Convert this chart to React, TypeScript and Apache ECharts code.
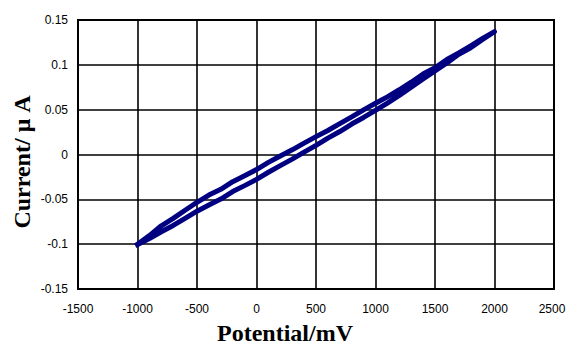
import React, { useEffect, useRef } from "react";
import * as echarts from "echarts";

const potential = [
  -1000, -900, -800, -700, -600, -500, -400, -300, -200, -100, 0, 100, 200, 300, 400, 500,
  600, 700, 800, 900, 1000, 1100, 1200, 1300, 1400, 1500, 1600, 1700, 1800, 1900, 2000,
];
const upperCurrent = [
  -0.1, -0.0905, -0.0795, -0.0712, -0.0622, -0.0533, -0.0452, -0.0388, -0.0303, -0.0237,
  -0.0168, -0.0088, -0.0016, 0.0052, 0.0127, 0.0199, 0.0268, 0.0345, 0.0419, 0.0497, 0.0571,
  0.0643, 0.0722, 0.0806, 0.0897, 0.0968, 0.106, 0.1133, 0.1212, 0.1294, 0.137,
];
const lowerCurrent = [
  -0.1005, -0.0938, -0.0862, -0.0791, -0.0713, -0.0632, -0.0563, -0.0497, -0.0413, -0.0347,
  -0.0277, -0.0198, -0.0124, -0.0052, 0.0027, 0.0102, 0.0183, 0.0256, 0.034, 0.0413, 0.0492,
  0.0573, 0.0659, 0.0751, 0.0843, 0.0931, 0.1021, 0.1117, 0.119, 0.1283, 0.1368,
];
const xTitle = "Potential/mV";
const yTitle = "Current/ μ A";

export default function App() {
  const ref = useRef<HTMLDivElement>(null);
  useEffect(() => {
    if (!ref.current) return;
    const chart = echarts.init(ref.current, null, { renderer: "svg" });
    const loop: number[][] = [];
    potential.forEach((x, i) => loop.push([x, upperCurrent[i]]));
    for (let i = potential.length - 1; i >= 0; i--) loop.push([potential[i], lowerCurrent[i]]);
    loop.push([potential[0], upperCurrent[0]]);
    const labelStyle = {
      color: "#000",
      fontFamily: "Liberation Sans, Arial, sans-serif",
      fontSize: 12,
    };
    chart.setOption({
      animation: false,
      backgroundColor: "#fff",
      grid: {
        left: 78,
        right: 12,
        top: 20,
        bottom: 56,
        outerBoundsMode: "none",
        containLabel: false,
        show: true,
        borderColor: "#000",
        borderWidth: 2,
        backgroundColor: "#fff",
      },
      xAxis: {
        type: "value",
        min: -1500,
        max: 2500,
        interval: 500,
        axisLine: { show: true, onZero: false, lineStyle: { color: "#000", width: 2 } },
        axisTick: { show: false },
        splitLine: { show: true, lineStyle: { color: "#000", width: 1.6 } },
        axisLabel: {
          ...labelStyle,
          margin: 14,
          formatter: (v: number) => (v === 2500 ? "{r|" + v + "}" : String(v)),
          rich: { r: { ...labelStyle, padding: [0, 4, 0, 0] } },
        },
      },
      yAxis: {
        type: "value",
        min: -0.15,
        max: 0.15,
        interval: 0.05,
        axisLine: { show: true, onZero: false, lineStyle: { color: "#000", width: 2 } },
        axisTick: { show: false },
        splitLine: { show: true, lineStyle: { color: "#000", width: 1.6 } },
        axisLabel: { ...labelStyle, margin: 10, formatter: (v: number) => String(Math.round(v * 100) / 100) },
      },
      graphic: [
        {
          type: "text",
          x: 285,
          y: 333,
          style: {
            text: xTitle,
            fill: "#000",
            font: "bold 24px 'Liberation Serif', 'Times New Roman', serif",
            textAlign: "center",
            textVerticalAlign: "middle",
          },
        },
        {
          type: "text",
          x: 22,
          y: 162,
          rotation: Math.PI / 2,
          style: {
            text: yTitle,
            fill: "#000",
            font: "bold 24px 'Liberation Serif', 'Times New Roman', serif",
            textAlign: "center",
            textVerticalAlign: "middle",
          },
        },
      ],
      series: [
        {
          type: "line",
          data: loop,
          showSymbol: false,
          smooth: false,
          lineStyle: { color: "#000080", width: 5, join: "round", cap: "square" },
          itemStyle: { color: "#000080" },
        },
      ],
    });
    return () => chart.dispose();
  }, []);
  return <div ref={ref} style={{ position: "fixed", left: 0, top: 0, width: 566, height: 345 }} />;
}
